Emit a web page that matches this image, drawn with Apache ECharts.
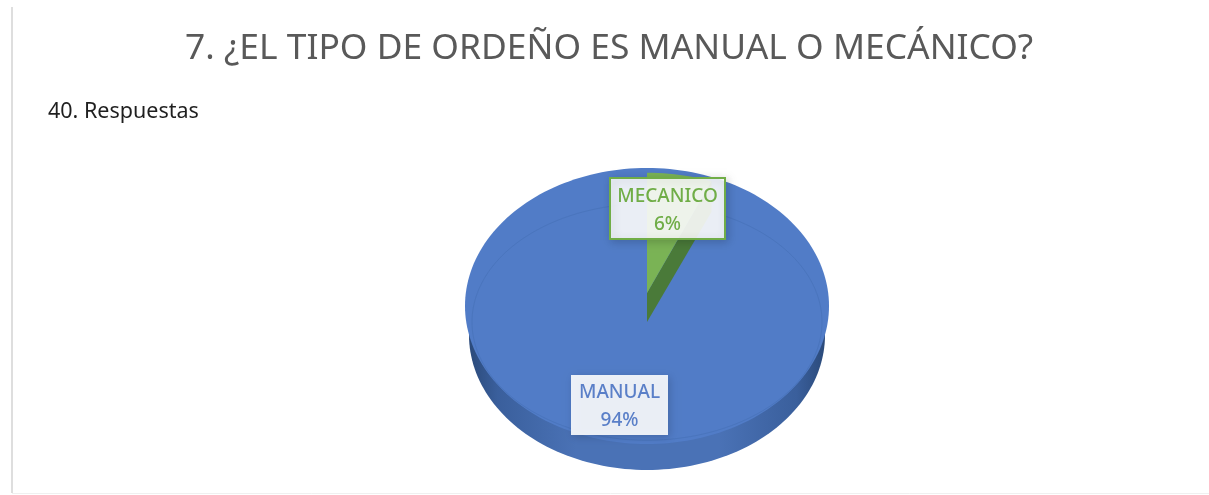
<!DOCTYPE html>
<html>
<head>
<meta charset="utf-8">
<style>
  html, body { margin: 0; padding: 0; background: #fff; }
  #chart { width: 1209px; height: 495px; }
</style>
<script src="https://cdn.jsdelivr.net/npm/echarts@6/dist/echarts.min.js"></script>
</head>
<body>
<div id="chart"></div>
<script>
const titleText = '7. ¿EL TIPO DE ORDEÑO ES MANUAL O MECÁNICO?'
const subText = '40. Respuestas'
const categories = ['MANUAL', 'MECANICO']
const values = [94, 6]

const total = values.reduce((a, b) => a + b, 0)
const blue = '#517cc7'
const green = '#7ab355'
const darkGreen = '#4a7a39'
const fontName = '"Noto Sans", sans-serif'

// ellipse through the polar axes: rx is a share of the polar radius, ry and dy in px
const CY = 306
function arc(api, from, to, rx, ry, dy) {
  const pts = []
  const n = Math.max(2, Math.ceil((to - from) * 2))
  for (let i = 0; i <= n; i++) {
    const p = api.coord([rx, from + (to - from) * i / n])
    pts.push([p[0], CY + dy + (p[1] - CY) * ry / 182])
  }
  return pts
}
function apex(api, dy) {
  return [api.coord([0, 0])[0], CY + dy]
}

function labelBox(x, y, w, h, name, value, color, border) {
  return [
    {
      type: 'rect',
      shape: { x: x, y: y, width: w, height: h },
      style: {
        fill: 'rgba(255,255,255,0.89)',
        stroke: border ? color : null,
        lineWidth: border ? 2 : 0,
        shadowBlur: 8,
        shadowOffsetX: 2,
        shadowOffsetY: 2,
        shadowColor: 'rgba(0,0,0,0.18)'
      }
    },
    {
      type: 'text',
      x: x + w / 2,
      y: y + h / 2 + 2,
      style: {
        text: name + '\n' + value + '%',
        fill: color,
        font: '500 19px ' + fontName,
        lineHeight: 28,
        textAlign: 'center',
        textVerticalAlign: 'middle'
      }
    }
  ]
}

function renderSlice(params, api) {
  const i = params.dataIndex
  const name = categories[i]
  const value = api.value(1)
  const before = values.slice(0, i + 1).reduce((a, b) => a + b, 0)
  const from = total - before
  const to = from + value
  const children = []

  if (i === 0) {
    // wall under the pie and the outer rim
    children.push({
      type: 'polygon',
      shape: { points: arc(api, 0, total, 178 / 182, 138, 29) },
      style: {
        fill: new echarts.graphic.LinearGradient(0, 0, 1, 0, [
          { offset: 0, color: '#2b4a7a' },
          { offset: 0.08, color: '#3a5f9c' },
          { offset: 0.3, color: '#4a72b6' },
          { offset: 0.7, color: '#4a72b6' },
          { offset: 0.92, color: '#3a5f9c' },
          { offset: 1, color: '#2b4a7a' }
        ])
      }
    })
    children.push({
      type: 'polygon',
      shape: { points: arc(api, 0, total, 1, 138, 0) },
      style: { fill: blue }
    })
    children.push({
      type: 'polygon',
      shape: { points: [apex(api, 16)].concat(arc(api, from, to, 175 / 182, 123, 16)) },
      style: { fill: blue }
    })
    children.push({
      type: 'polyline',
      shape: { points: arc(api, 0, total, 175 / 182, 123, 16) },
      style: { fill: null, stroke: '#4a75bd', lineWidth: 1 }
    })
    children.push(...labelBox(571, 375, 97, 60, name, value, '#5a7fc8', false))
  } else {
    // lifted slice with its cut wall
    const top = arc(api, from, to, 175 / 182, 125, -13)
    const low = arc(api, from, to, 175 / 182, 123, 16)
    children.push({
      type: 'polygon',
      shape: { points: [apex(api, -13), top[top.length - 1], low[low.length - 1], apex(api, 16)] },
      style: { fill: darkGreen }
    })
    children.push({
      type: 'polygon',
      shape: { points: [apex(api, -13)].concat(top) },
      style: { fill: green }
    })
    children.push(...labelBox(610, 178, 115, 61, name, value, '#70ad47', true))
  }
  return { type: 'group', children: children }
}

const chart = echarts.init(document.getElementById('chart'))
chart.setOption({
  animation: false,
  backgroundColor: '#fff',
  title: [
    {
      text: titleText,
      left: 180,
      top: 26,
      textStyle: { color: '#595959', fontFamily: 'Noto Sans', fontSize: 35.4, fontWeight: 'normal' }
    },
    {
      text: subText,
      left: 43,
      top: 96,
      textStyle: { color: '#1f1f1f', fontFamily: 'Noto Sans', fontSize: 21.5, fontWeight: 'normal' }
    }
  ],
  polar: { center: [647, CY], radius: 182 },
  angleAxis: { type: 'value', min: 0, max: total, startAngle: 90, show: false },
  radiusAxis: { type: 'value', min: 0, max: 1, show: false },
  graphic: [
    { type: 'line', silent: true, shape: { x1: 12, y1: 7, x2: 12, y2: 493 }, style: { stroke: '#dedede', lineWidth: 2 } },
    { type: 'line', silent: true, shape: { x1: 12, y1: 493.5, x2: 1209, y2: 493.5 }, style: { stroke: '#f0f0f0', lineWidth: 1 } }
  ],
  series: [{
    type: 'custom',
    coordinateSystem: 'polar',
    clip: false,
    silent: true,
    encode: { radius: 0, angle: 1 },
    data: categories.map((name, i) => ({ name: name, value: [1, values[i]] })),
    renderItem: renderSlice
  }]
})
</script>
</body>
</html>
